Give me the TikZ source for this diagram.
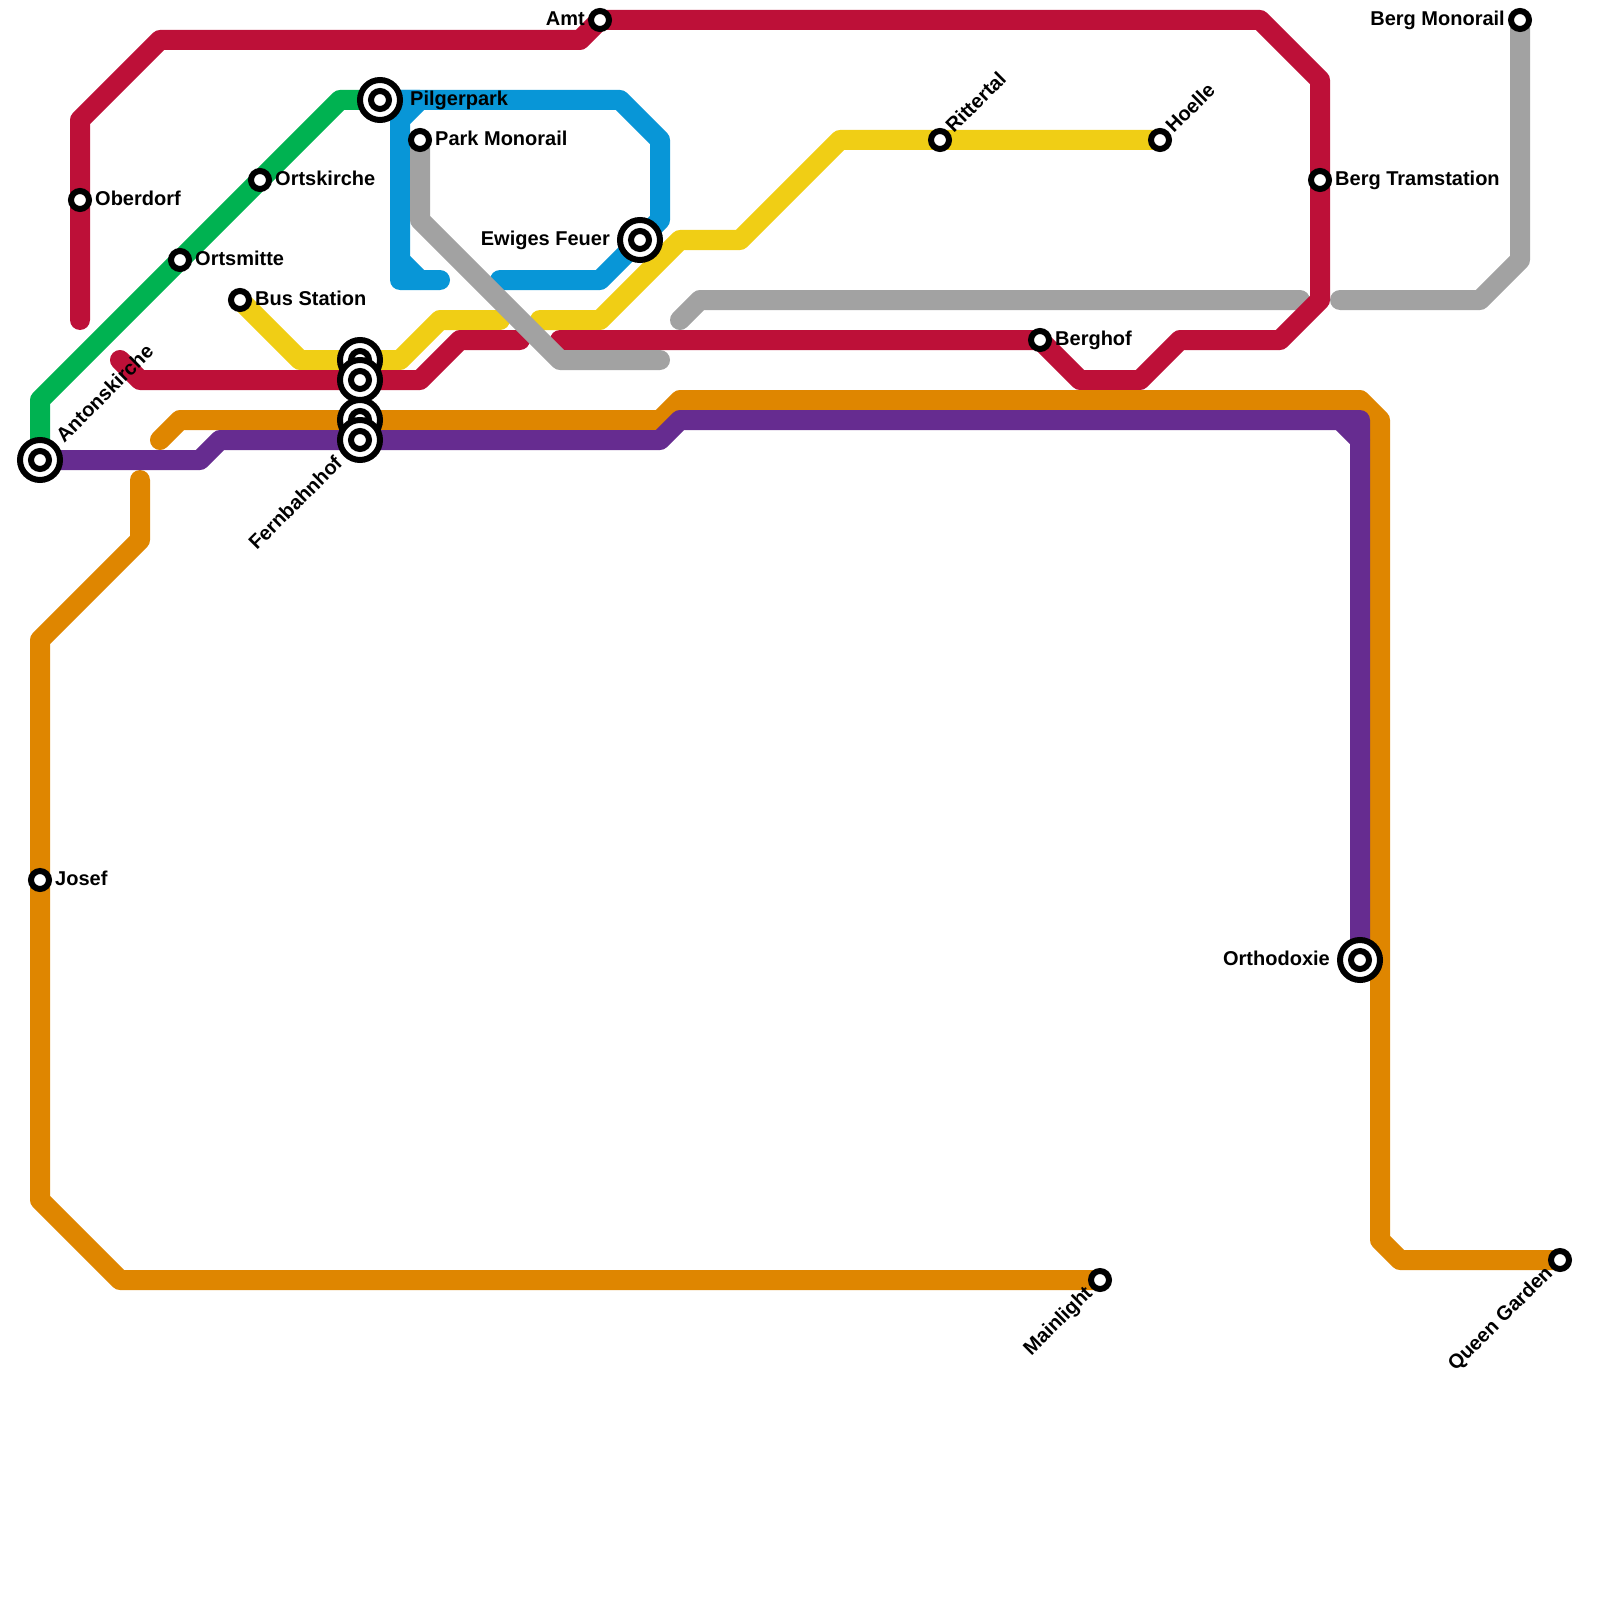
\documentclass[tikz,border=0pt]{standalone}
\usepackage{fontspec}
\setmainfont{Liberation Sans}
\usepackage{xcolor}
\usepackage{tikz}
\usetikzlibrary{positioning, calc, backgrounds}
\definecolor{redln}{HTML}{BD1038}
\definecolor{yellowln}{HTML}{F0CE15}
\definecolor{blueln}{HTML}{0896D7}
\definecolor{greyln}{HTML}{A2A2A2}
\definecolor{greenln}{HTML}{00B251}
\definecolor{orangeln}{HTML}{DF8600}
\definecolor{purpleln}{HTML}{662C90}

\begin{document}
\begin{tikzpicture}[
  x=1mm, y=-1mm,
  stop/.style={circle, draw=black, fill=white, line width=0.6mm, inner sep=0pt,
               minimum size=1.8mm},
  hub/.style={circle, draw=black, fill=white, line width=0.6mm, inner sep=0pt,
              minimum size=4mm,
              path picture={\draw[line width=0.6mm] (path picture bounding box.center) circle (0.9mm);}},
  lbl/.style={font=\fontsize{5.69}{6.8}\selectfont\bfseries, inner sep=0pt,
              text height=1.4mm, text depth=0.3mm},
  track/.style={line width=2mm, line cap=round, line join=round}
]
\useasboundingbox (0,0) rectangle (160,160);
\def\xF{36}

% small stops
\node[stop] (oberdorf) at (8, 20) {};
\node[stop] (amt) at (60, 2) {};
\node[stop] (parkmono) at (42, 14) {};
\node[stop] (ortskirche) at (26, 18) {};
\node[stop] (ortsmitte) at (18, 26) {};
\node[stop] (busstation) at (24, 30) {};
\node[stop] (josef) at (4, 88) {};
\node[stop] (berghof) at (104, 34) {};
\node[stop] (rittertal) at (94, 14) {};
\node[stop] (hoelle) at (116, 14) {};
\node[stop] (bergtram) at (132, 18) {};
\node[stop] (bergmono) at (152, 2) {};
\node[stop] (mainlight) at (110, 128) {};
\node[stop] (queengarden) at (156, 126) {};

% interchanges
\node[hub] (pilgerpark) at (38, 10) {};
\node[hub] (ewiges) at (64, 24) {};
\node[hub] (antons) at (4, 46) {};
\node[hub] (orthodoxie) at (136, 96) {};
\node[hub] (fernYellow) at (\xF, 36) {};
\node[hub] (fernRed) at (\xF, 38) {};
\node[hub] (fernOrange) at (\xF, 42) {};
\node[hub] (fernPurple) at (\xF, 44) {};

% labels
\node[lbl, right=0.25mm of oberdorf] (oberdorfLbl) {Oberdorf};
\node[lbl, left=0.25mm of amt] (amtLbl) {Amt};
\node[lbl, right=0.25mm of parkmono] (parkmonoLbl) {Park Monorail};
\node[lbl, right=0.25mm of ortskirche] (ortskircheLbl) {Ortskirche};
\node[lbl, right=0.25mm of ortsmitte] (ortsmitteLbl) {Ortsmitte};
\node[lbl, right=0.25mm of busstation] (busstationLbl) {Bus Station};
\node[lbl, right=0.25mm of josef] (josefLbl) {Josef};
\node[lbl, right=0.25mm of berghof] (berghofLbl) {Berghof};
\node[lbl, right=0.25mm of bergtram] (bergtramLbl) {Berg Tramstation};
\node[lbl, left=0.25mm of bergmono] (bergmonoLbl) {Berg Monorail};
\node[lbl, right=0.65mm of pilgerpark] (pilgerparkLbl) {Pilgerpark};
\node[lbl, left=0.65mm of ewiges] (ewigesLbl) {Ewiges Feuer};
\node[lbl, left=0.65mm of orthodoxie] (orthodoxieLbl) {Orthodoxie};
\node[lbl, rotate=45, anchor=west] (rittertalLbl) at ($(rittertal)+(0.95,-0.95)$) {Rittertal};
\node[lbl, rotate=45, anchor=west] (hoelleLbl) at ($(hoelle)+(0.95,-0.95)$) {Hoelle};
\node[lbl, rotate=45, anchor=west] (antonsLbl) at ($(antons)+(2,-2)$) {Antonskirche};
\node[lbl, rotate=45, anchor=east] (fernLbl) at ($(fernPurple)+(-2,2)$) {Fernbahnhof};
\node[lbl, rotate=45, anchor=east] (mainlightLbl) at ($(mainlight)+(-1,1)$) {Mainlight};
\node[lbl, rotate=45, anchor=east] (queenLbl) at ($(queengarden)+(-1,1)$) {Queen Garden};

% free ends
\coordinate (redStart) at (8, 32);
\coordinate (redGapR) at (56, 34);
\coordinate (redGapL) at (52, 34);
\coordinate (redEnd) at (12, 36);
\coordinate (yellowGapL) at (50, 32);
\coordinate (yellowGapR) at (54, 32);
\coordinate (blueGapL) at (44, 28);
\coordinate (blueGapR) at (50, 28);
\coordinate (greyEnd) at (66, 36);
\coordinate (greyMidL) at (68, 32);
\coordinate (greyMidR) at (130, 30);
\coordinate (greyEast) at (134, 30);
\coordinate (orangeTop) at (16, 44);
\coordinate (orangeLow) at (14, 48);

\begin{pgfonlayer}{background}
\draw[track, greyln] (greyMidL) -- (70, 30) -- (greyMidR);
\draw[track, greyln] (greyEast) -- (148, 30) -- (152, 26) -- (bergmono.center);

\draw[track, blueln] (pilgerpark.center) -- (62, 10) -- (66, 14) -- (66, 22)
  -- (ewiges.center) -- (60, 28) -- (blueGapR);
\draw[track, blueln] (pilgerpark.center) -- (42, 10) -- (40, 12) -- (40, 28) -- (blueGapL);
\draw[track, blueln] (40, 26) -- (42, 28);

\draw[track, greenln] (antons.center) -- (4, 40) -- (ortsmitte.center)
  -- (ortskirche.center) -- (34, 10) -- (pilgerpark.center);

\draw[track, yellowln] (busstation.center) -- (30, 36) -- (fernYellow.center)
  -- (40, 36) -- (44, 32) -- (yellowGapL);
\draw[track, yellowln] (yellowGapR) -- (60, 32) -- (68, 24) -- (74, 24) -- (84, 14)
  -- (rittertal.center) -- (hoelle.center);

\draw[track, redln] (redStart) -- (oberdorf.center) -- (8, 12) -- (16, 4) -- (58, 4)
  -- (amt.center) -- (126, 2) -- (132, 8) -- (bergtram.center) -- (132, 30) -- (128, 34)
  -- (118, 34) -- (114, 38) -- (108, 38) -- (berghof.center) -- (redGapR);
\draw[track, redln] (redGapL) -- (46, 34) -- (42, 38) -- (fernRed.center) -- (14, 38)
  -- (redEnd);

\draw[track, orangeln] (orangeTop) -- (18, 42) -- (fernOrange.center) -- (66, 42)
  -- (68, 40) -- (136, 40) -- (138, 42) -- (138, 124) -- (140, 126)
  -- (queengarden.center);
\draw[track, orangeln] (orangeLow) -- (14, 54) -- (4, 64) -- (josef.center) -- (4, 120)
  -- (12, 128) -- (mainlight.center);

\draw[track, purpleln] (antons.center) -- (20, 46) -- (22, 44) -- (fernPurple.center)
  -- (66, 44) -- (68, 42) -- (136, 42) -- (orthodoxie.center);
\draw[track, purpleln] (134, 42) -- (136, 44);

\draw[track, greyln] (parkmono.center) -- (42, 22) -- (56, 36) -- (greyEnd);
\end{pgfonlayer}
\end{tikzpicture}
\end{document}
